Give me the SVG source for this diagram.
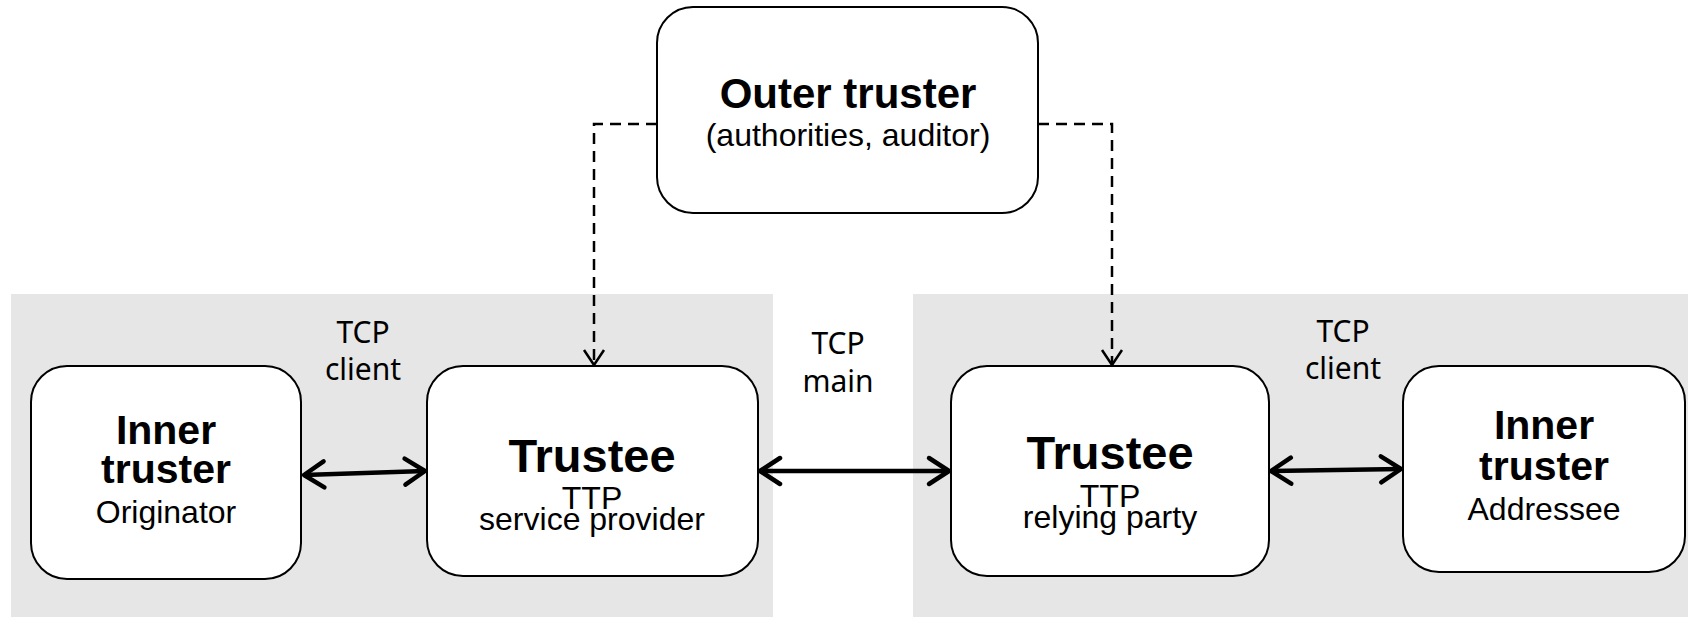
<svg xmlns="http://www.w3.org/2000/svg" width="1688" height="617" viewBox="0 0 1688 617">
<style>
.zone{fill:#e6e6e6;stroke:none}
.box{fill:#ffffff;stroke:#000000;stroke-width:2}
.b{font-family:"Liberation Sans",Arial,sans-serif;font-weight:bold;fill:#000;text-anchor:middle}
.r{font-family:"Liberation Sans",Arial,sans-serif;font-size:32px;fill:#000;text-anchor:middle}
.tcp{font-family:"Noto Sans","Open Sans",sans-serif;font-size:30px;fill:#000;text-anchor:middle}
.solid{fill:none;stroke:#000;stroke-width:4.5;marker-start:url(#chev);marker-end:url(#chev)}
.dash{fill:none;stroke:#000;stroke-width:2.5;stroke-dasharray:11 7;marker-end:url(#vee)}
</style>
<defs>
<marker id="chev" viewBox="-26 -18 30 36" markerWidth="30" markerHeight="36" refX="0" refY="0" orient="auto-start-reverse" markerUnits="userSpaceOnUse">
<path d="M-20,-13 L0,0 L-20,13" fill="none" stroke="#000" stroke-width="4.5" stroke-linecap="round" stroke-linejoin="round"/>
</marker>
<marker id="vee" viewBox="-18 -13 21 26" markerWidth="21" markerHeight="26" refX="0" refY="0" orient="auto" markerUnits="userSpaceOnUse">
<path d="M-15,-10 L0,0 L-15,10" fill="none" stroke="#000" stroke-width="2.5"/>
</marker>
</defs>
<g id="zones">
<rect class="zone" x="11" y="294" width="762" height="323"/>
<rect class="zone" x="913" y="294" width="775" height="323"/>
</g>
<g id="outer-truster">
<rect class="box" x="657" y="7" width="381" height="206" rx="36"/>
<text class="b" x="848" y="108" font-size="42">Outer truster</text>
<text class="r" x="848" y="146">(authorities, auditor)</text>
</g>
<g id="inner-truster-originator">
<rect class="box" x="31" y="366" width="270" height="213" rx="36"/>
<text class="b" x="166" y="444" font-size="41">Inner</text>
<text class="b" x="166" y="483" font-size="41">truster</text>
<text class="r" x="166" y="523">Originator</text>
</g>
<g id="trustee-service-provider">
<rect class="box" x="427" y="366" width="331" height="210" rx="36"/>
<text class="b" x="592" y="472" font-size="47">Trustee</text>
<text class="r" x="592" y="509">TTP</text>
<text class="r" x="592" y="530">service provider</text>
</g>
<g id="trustee-relying-party">
<rect class="box" x="951" y="366" width="318" height="210" rx="36"/>
<text class="b" x="1110" y="469" font-size="47">Trustee</text>
<text class="r" x="1110" y="507">TTP</text>
<text class="r" x="1110" y="528">relying party</text>
</g>
<g id="inner-truster-addressee">
<rect class="box" x="1403" y="366" width="282" height="206" rx="36"/>
<text class="b" x="1544" y="439" font-size="41">Inner</text>
<text class="b" x="1544" y="480" font-size="41">truster</text>
<text class="r" x="1544" y="520">Addressee</text>
</g>
<g id="connectors">
<path class="dash" d="M657,124 H594 V365"/>
<path class="dash" d="M1038,124 H1112 V365"/>
<path class="solid" d="M304,475 L425,471"/>
<path class="solid" d="M760,471 L949,471"/>
<path class="solid" d="M1271,471 L1401,469"/>
</g>
<g id="labels">
<text class="tcp" x="363" y="343">TCP</text>
<text class="tcp" x="363" y="380">client</text>
<text class="tcp" x="838" y="354">TCP</text>
<text class="tcp" x="838" y="392">main</text>
<text class="tcp" x="1343" y="342">TCP</text>
<text class="tcp" x="1343" y="379">client</text>
</g>
</svg>
